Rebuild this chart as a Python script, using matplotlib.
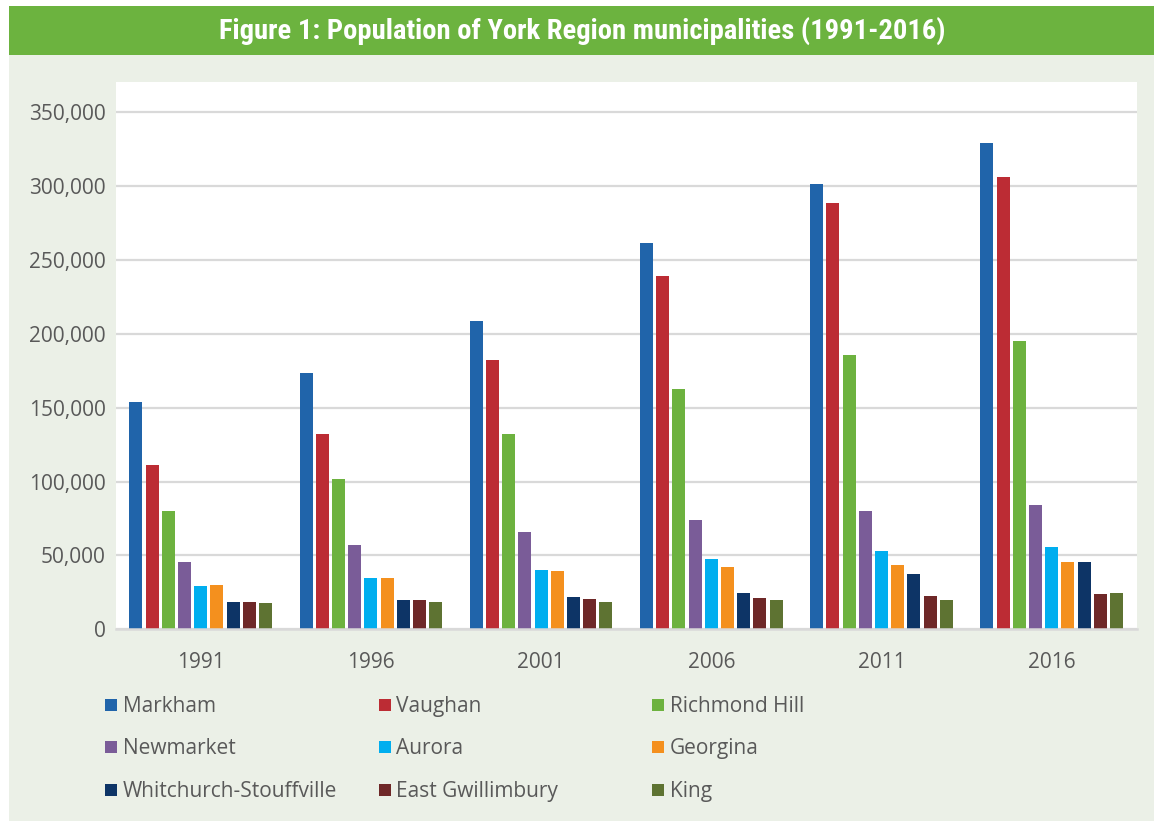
import matplotlib
matplotlib.use("Agg")
import matplotlib.pyplot as plt
from matplotlib.patches import Rectangle
from matplotlib import font_manager
import numpy as np

# ---- data ----
years = ["1991", "1996", "2001", "2006", "2011", "2016"]
municipalities = ["Markham", "Vaughan", "Richmond Hill", "Newmarket", "Aurora",
                  "Georgina", "Whitchurch-Stouffville", "East Gwillimbury", "King"]
markham = [153800, 173400, 208600, 261600, 301700, 329000]
vaughan = [111400, 132500, 182000, 238900, 288300, 306200]
richmond_hill = [80100, 101700, 132000, 162700, 185500, 195000]
newmarket = [45500, 57100, 65800, 74300, 80000, 84200]
aurora = [29500, 34900, 40200, 47600, 53200, 55400]
georgina = [29700, 34800, 39300, 42300, 43500, 45400]
whitchurch = [18400, 19800, 22000, 24400, 37600, 45800]
east_gwillimbury = [18400, 19700, 20600, 21100, 22500, 24000]
king = [18100, 18200, 18500, 19500, 19900, 24500]
series = [markham, vaughan, richmond_hill, newmarket, aurora, georgina,
          whitchurch, east_gwillimbury, king]
colors = ["#2064AA", "#BC2C34", "#6DB23F", "#7A5C98", "#00AEEF",
          "#F4901E", "#0D3466", "#6E2828", "#5E7332"]
yticks = [0, 50000, 100000, 150000, 200000, 250000, 300000, 350000]
title = "Figure 1: Population of York Region municipalities (1991-2016)"

W, H = 1154, 821
BG = "#EBF0E7"
GREEN = "#6CB33F"
TXT = "#595959"
FONT = ["Open Sans", "DejaVu Sans"]

# pick a narrow bold face for the banner if one is installed
installed = {f.name for f in font_manager.fontManager.ttflist}
narrow = [f for f in ["Roboto Condensed", "Liberation Sans Narrow",
                      "DejaVu Sans Condensed", "Open Sans Condensed"] if f in installed]
if narrow:
    title_family = [narrow[0], "DejaVu Sans"]
else:
    title_family = ["Roboto", "DejaVu Sans"]
title_size = 20.5

fig = plt.figure(figsize=(W / 100, H / 100), dpi=100)
fig.patch.set_facecolor("white")

def px(x0, y0, w, h):
    return [x0 / W, 1 - (y0 + h) / H, w / W, h / H]

# light background panel
bgax = fig.add_axes(px(9, 55, W - 9, H - 55), zorder=-2)
bgax.set_facecolor(BG)
bgax.set_xticks([]); bgax.set_yticks([])
for s in bgax.spines.values():
    s.set_visible(False)

# title banner
tax = fig.add_axes(px(9, 6, W - 9, 49), zorder=-1)
tax.set_facecolor(GREEN)
tax.set_xticks([]); tax.set_yticks([])
for s in tax.spines.values():
    s.set_visible(False)
ttl = fig.text(582 / W, 1 - 30.5 / H, title, color="white", ha="center", va="center",
               fontsize=title_size, fontweight="bold", family=title_family)
# fit the banner title to the reference width (about 730 px)
fig.canvas.draw()
bb = ttl.get_window_extent()
if bb.width > 735:
    ttl.set_fontsize(title_size * 730 / bb.width)

# main plot
top_px, base_px, y350_px = 82, 629.3, 112.3
ymax = 350000 * (base_px - top_px) / (base_px - y350_px)
ax = fig.add_axes(px(115.7, top_px, 1136.7 - 115.7, base_px - top_px))
ax.set_facecolor("white")

x = np.arange(len(years))
slot = 16.2 / (1021 / 6)
barw = 13.0 / (1021 / 6)
n = len(series)
for i, (vals, c) in enumerate(zip(series, colors)):
    ax.bar(x + (i - (n - 1) / 2) * slot, vals, width=barw, color=c,
           linewidth=0, zorder=3)

ax.set_xlim(-0.5, len(years) - 0.5)
ax.set_ylim(0, ymax)
ax.set_yticks(yticks)
ax.set_yticklabels([f"{v:,}" for v in yticks], color=TXT, fontsize=15, family=FONT)
ax.set_xticks(x)
ax.set_xticklabels(years, color=TXT, fontsize=15, family=FONT)
ax.tick_params(axis="y", length=0, pad=7)
ax.tick_params(axis="x", length=0, pad=16.5)
ax.grid(axis="y", color="#D9D9D9", linewidth=1.6, zorder=0)
ax.set_axisbelow(True)
for s in ["top", "right", "left"]:
    ax.spines[s].set_visible(False)
ax.spines["bottom"].set_color("#D9D9D9")
ax.spines["bottom"].set_linewidth(1.8)
ax.spines["bottom"].set_zorder(4)

# legend (3 columns)
col_x = [105, 378.5, 652]
row_y = [705.3, 747.3, 789.5]
for i, (name, c) in enumerate(zip(municipalities, colors)):
    cx = col_x[i % 3]
    cy = row_y[i // 3]
    fig.patches.append(Rectangle((cx / W, 1 - (cy + 6) / H), 12 / W, 12 / H,
                                 transform=fig.transFigure, facecolor=c,
                                 edgecolor="none", figure=fig))
    fig.text((cx + 18) / W, 1 - (cy + 1.5) / H, name, color=TXT, fontsize=15,
             family=FONT, ha="left", va="center")

fig.savefig("out.png", dpi=100, facecolor=fig.get_facecolor())
